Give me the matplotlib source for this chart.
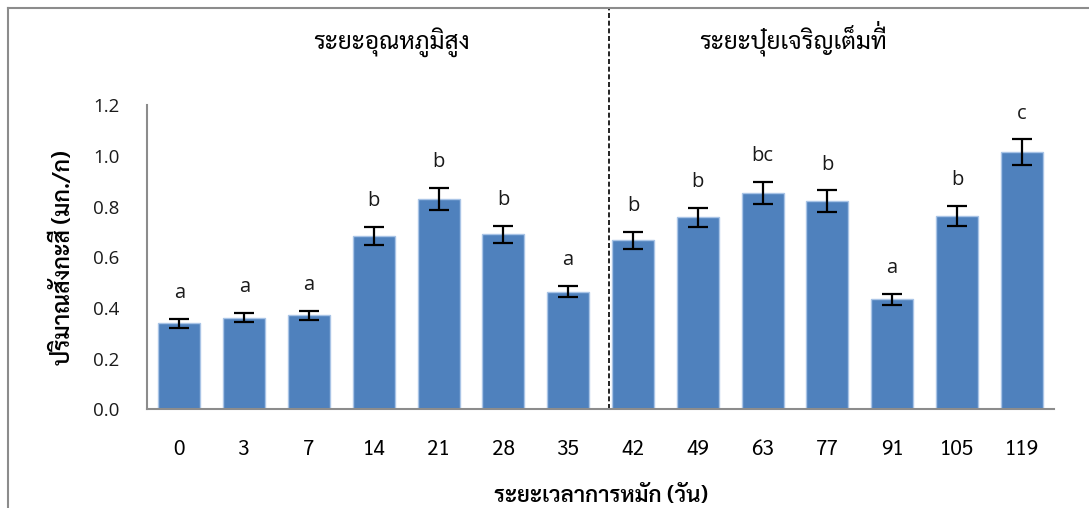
import matplotlib
matplotlib.use('Agg')
import matplotlib.pyplot as plt
from matplotlib.lines import Line2D

plt.rcParams['font.family'] = ['Sarabun', 'DejaVu Sans']

# ปริมาณสังกะสี ตามระยะเวลาการหมัก
days = ['0', '3', '7', '14', '21', '28', '35', '42', '49', '63', '77', '91', '105', '119']
zinc = [0.340, 0.362, 0.371, 0.684, 0.829, 0.690, 0.465,
        0.667, 0.758, 0.853, 0.822, 0.434, 0.762, 1.014]
sd = [0.017, 0.019, 0.019, 0.035, 0.043, 0.035, 0.023,
      0.034, 0.038, 0.044, 0.042, 0.022, 0.039, 0.051]
groups = ['a', 'a', 'a', 'b', 'b', 'b', 'a',
          'b', 'b', 'bc', 'b', 'a', 'b', 'c']
n_hot = 7  # จำนวนจุดในระยะอุณหภูมิสูง

bar_w = 0.65
x = list(range(len(days)))

fig = plt.figure(figsize=(10.89, 5.08), dpi=100)
ax = fig.add_axes([0.135, 0.194, 0.833, 0.599])

ax.bar(x, zinc, width=bar_w, color='#4F81BD', edgecolor='#A9C4E6', linewidth=1,
       yerr=sd, error_kw=dict(ecolor='black', elinewidth=1.6, capsize=7.5, capthick=1.6),
       zorder=2)

for xi, v, e, g in zip(x, zinc, sd, groups):
    ax.annotate(g, (xi, v + e), xytext=(0, 15), textcoords='offset points',
                ha='center', va='baseline', fontsize=14.5, family='Open Sans',
                color='#1a1a1a')

# เส้นแบ่งระยะ
div = n_hot - bar_w / 2 - 0.04
ax.plot([div, div], [0, 1.58], ls=(0, (3, 1.6)), color='black', lw=1.2, clip_on=False)

ax.set_xlim(-0.5, len(days) - 0.5)
ax.set_ylim(0, 1.2)
ax.set_yticks([0.0, 0.2, 0.4, 0.6, 0.8, 1.0, 1.2])
ax.set_yticklabels(['%.1f' % t for t in ax.get_yticks()], family='Open Sans', fontsize=13.5)
ax.set_xticks(x)
ax.set_xticklabels(days, fontsize=15)
ax.tick_params(axis='y', length=0, pad=20, colors='#1a1a1a')
ax.tick_params(axis='x', length=0, pad=21, colors='black')

for s in ['top', 'right']:
    ax.spines[s].set_visible(False)
for s in ['left', 'bottom']:
    ax.spines[s].set_color('#8C8C8C')
    ax.spines[s].set_linewidth(1.5)

ax.set_ylabel('ปริมาณสังกะสี (มก./ก)', fontsize=16.5, fontweight='semibold', labelpad=13)
ax.set_xlabel('ระยะเวลาการหมัก (วัน)', fontsize=16, fontweight='semibold', labelpad=19)

title_y = 0.905
fig.text(0.359, title_y, 'ระยะอุณหภูมิสูง', ha='center', va='baseline',
         fontsize=17.5, color='black')
t2 = fig.text(0.728, title_y, 'ระยะปุ๋ยเจริญเต็มที', ha='center', va='baseline',
              fontsize=17.5, color='black')

# ไม้เอกของ "ที่" ยกขึ้นเหนือสระอี บนเส้นฐานเดียวกัน
fig.canvas.draw()
bb = t2.get_window_extent()
fig.text((bb.x1 - 0.5) / fig.bbox.width, title_y + 6 / fig.bbox.height, '\u0e48 ',
         ha='right', va='baseline', fontsize=17.5, color='black')

# กรอบรอบแผนภูมิ
fig.add_artist(Line2D([0.0075, 0.0075], [0, 0.984], color='#8C8C8C', lw=1.5))
fig.add_artist(Line2D([0.0075, 1.0], [0.984, 0.984], color='#8C8C8C', lw=1.5))

fig.savefig('out.png', dpi=100)
